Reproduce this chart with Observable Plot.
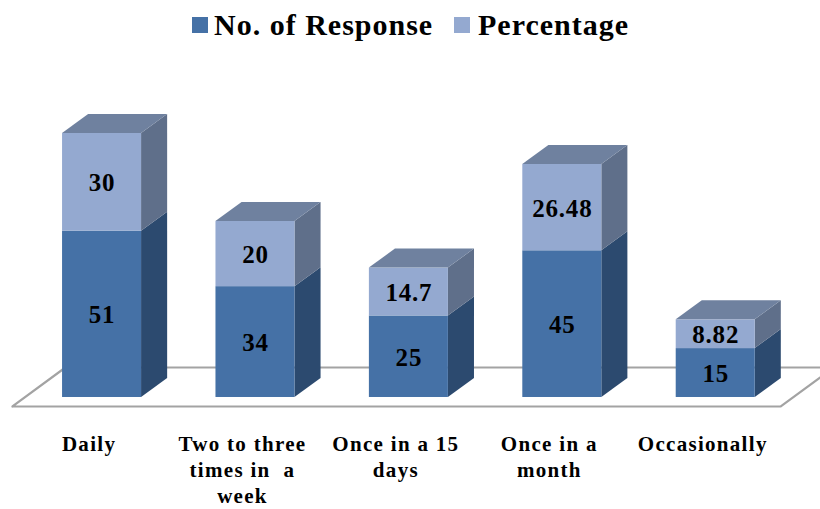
<!DOCTYPE html>
<html>
<head>
<meta charset="utf-8">
<script src="https://cdn.jsdelivr.net/npm/d3@7"></script>
<script src="https://cdn.jsdelivr.net/npm/@observablehq/plot@0.6"></script>
<style>
html,body{margin:0;padding:0;background:#fff;}
#legend{height:50px;width:820px;position:relative;font:bold 30px "Liberation Serif",serif;letter-spacing:1px;color:#000;}
#legend span{position:absolute;top:8px;line-height:34px;white-space:nowrap;}
#legend i{position:absolute;top:17px;width:16px;height:16px;display:block;}
.valueLabels text{letter-spacing:0.8px;}
.catAxis text{letter-spacing:1.3px;}
</style>
</head>
<body>
<div id="legend"></div>
<div id="chart"></div>
<script>
const categories = ["Daily", "Two to three\ntimes in  a\nweek", "Once in a 15\ndays", "Once in a\nmonth", "Occasionally"];
const responses = [51, 34, 25, 45, 15];
const percentages = [30, 20, 14.7, 26.48, 8.82];
const seriesNames = ["No. of Response", "Percentage"];
const floorX = [-0.584, 4.424, 4.77, -0.239, -0.584];
const floorY = [-2.76, -2.76, 9.2, 9.2, -2.76];

const halfWidth = 0.2575, depthX = 0.17, depthY = 5.83;

const segments = categories.flatMap((c, i) => [
  {i, series: 0, value: responses[i], y1: 0, y2: responses[i]},
  {i, series: 1, value: percentages[i], y1: responses[i], y2: responses[i] + percentages[i]}
]);

const sidePts = s => [
  {k: s.i, x: s.i + halfWidth, y1: s.y1, y2: s.y2},
  {k: s.i, x: s.i + halfWidth + depthX, y1: s.y1 + depthY, y2: s.y2 + depthY}
];
const sideOf = n => segments.filter(s => s.series === n).flatMap(sidePts);
const topPts = segments.filter(s => s.series === 1).flatMap(s => [
  {k: s.i, y: s.y2, x1: s.i - halfWidth, x2: s.i + halfWidth},
  {k: s.i, y: s.y2 + depthY, x1: s.i - halfWidth + depthX, x2: s.i + halfWidth + depthX}
]);
const floor = floorX.map((x, j) => ({x, y: floorY[j]}));

const colors = ["#4571a6", "#94a9d0"];
const sideColors = ["#2c4a6f", "#5f6f8a"];
const serif = '"Liberation Serif", serif';

const chart = Plot.plot({
  width: 820, height: 459,
  marginLeft: 0, marginRight: 0, marginTop: 0, marginBottom: 77,
  style: {background: "transparent"},
  x: {type: "linear", domain: [-0.662, 4.683], axis: null},
  y: {type: "linear", domain: [-10.74, 106.44], axis: null},
  marks: [
    Plot.line(floor, {x: "x", y: "y", stroke: "#a3a3a3", strokeWidth: 2.2, fill: "#fff", clip: "frame", curve: "linear"}),
    Plot.areaY(sideOf(0), {x: "x", y1: "y1", y2: "y2", z: "k", fill: sideColors[0]}),
    Plot.areaY(sideOf(1), {x: "x", y1: "y1", y2: "y2", z: "k", fill: sideColors[1]}),
    Plot.rect(segments, {
      x1: s => s.i - halfWidth, x2: s => s.i + halfWidth,
      y1: "y1", y2: "y2", fill: s => colors[s.series], inset: 0
    }),
    Plot.areaX(topPts, {y: "y", x1: "x1", x2: "x2", z: "k", fill: "#6f819f"}),
    Plot.text(segments, {
      x: "i", y: s => (s.y1 + s.y2) / 2, text: s => String(s.value), dy: 1,
      fontFamily: serif, fontWeight: "bold", fontSize: 25, fill: "#000", className: "valueLabels"
    }),
    Plot.axisX({
      anchor: "bottom", ticks: [0, 1, 2, 3, 4], tickFormat: i => categories[i],
      tickSize: 0, tickPadding: 0, lineAnchor: "top", lineHeight: 1.24, dx: -13,
      fontFamily: serif, fontWeight: "bold", fontSize: 21, fill: "#000", label: null, className: "catAxis"
    })
  ]
});
document.getElementById("chart").appendChild(chart);

const legend = document.getElementById("legend");
const spots = [[192, 214], [454, 478]];
seriesNames.forEach((name, n) => {
  const sw = document.createElement("i");
  sw.style.left = spots[n][0] + "px";
  sw.style.background = colors[n];
  const t = document.createElement("span");
  t.style.left = spots[n][1] + "px";
  t.textContent = name;
  legend.append(sw, t);
});
</script>
</body>
</html>
